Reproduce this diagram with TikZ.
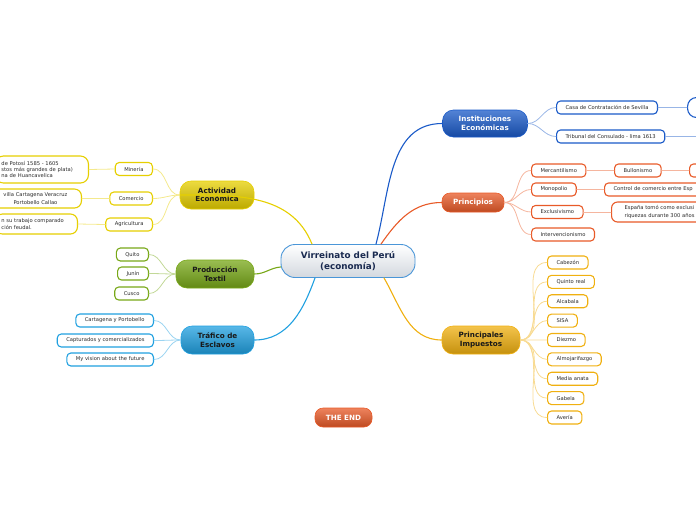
\documentclass[tikz,border=0pt]{standalone}
\usepackage{fontspec}
\setmainfont{DejaVu Sans}
\usepackage{tikz}
\definecolor{instblue}{HTML}{1A5AC8}
\definecolor{princred}{HTML}{E85A28}
\definecolor{taxorange}{HTML}{F0B010}
\definecolor{actyellow}{HTML}{E6CF00}
\definecolor{textgreen}{HTML}{78A818}
\definecolor{slaveblue}{HTML}{20A0E0}
\definecolor{rootblue}{HTML}{4A96D8}
\definecolor{rootgray}{HTML}{D3D8DF}
\definecolor{rootnavy}{HTML}{1A2A50}
\definecolor{leafgray}{HTML}{2A2A2A}

\begin{document}
\begin{tikzpicture}[
	x=1pt, y=-1pt,
	line cap=round, line join=round,
	root/.style={draw=rootblue, line width=0.9pt, top color=white, bottom color=rootgray,
		rounded corners=14pt, minimum width=134pt, minimum height=33pt, align=center,
		text=rootnavy, font=\fontsize{8.8}{10.5}\selectfont\bfseries},
	topic/.style={draw=#1, line width=0.6pt, top color=#1!75!white, bottom color=#1!82!black,
		rounded corners=11pt, minimum height=28pt, align=center,
		text=black!90, font=\fontsize{7.2}{8.6}\selectfont\bfseries},
	leaf/.style={draw=#1, line width=1.1pt, fill=white, rounded corners=4pt,
		minimum height=13pt, inner xsep=9pt, inner ysep=1pt,
		text=leafgray, font=\fontsize{5.2}{7.2}\selectfont},
	branch/.style={draw=#1, line width=1.1pt},
	twig/.style={draw=#1!45!white, line width=0.8pt}
]
	\useasboundingbox (0,0) rectangle (696,520);
	\clip (0,0) rectangle (696,520);

	% root and main topics
	\node[root] (virreinato) at (348,261) {Virreinato del Perú\\(economía)};
	\node[topic=instblue, text=white, minimum width=85pt, minimum height=27pt] (instituciones) at (485,123.5) {Instituciones\\Económicas};
	\node[topic=princred, text=white, minimum width=62pt, minimum height=19pt, rounded corners=8pt] (principios) at (473,202.5) {Principios};
	\node[topic=taxorange, minimum width=78pt] (impuestos) at (481,340) {Principales\\Impuestos};
	\node[topic=actyellow, minimum width=74pt] (actividad) at (217,195) {Actividad\\Económica};
	\node[topic=textgreen, minimum width=78pt] (produccion) at (215,274) {Producción\\Textil};
	\node[topic=slaveblue, minimum width=73pt] (trafico) at (217.5,340) {Tráfico de\\Esclavos};
	\node[topic=princred, text=white, minimum width=57pt, minimum height=19pt, rounded corners=8pt] (theend) at (343.5,417.5) {THE END};

	\draw[branch=instblue] ([xshift=28pt]virreinato.north) to[out=75,in=180] (instituciones.west);
	\draw[branch=princred] ([xshift=33pt]virreinato.north) to[out=55,in=180] (principios.west);
	\draw[branch=taxorange] ([xshift=36pt]virreinato.south) to[out=-60,in=180] (impuestos.west);
	\draw[branch=actyellow] ([xshift=-36pt]virreinato.north) to[out=112,in=0] (actividad.west);
	\draw[branch=textgreen] ([yshift=-6pt]virreinato.west) to[out=185,in=0] (produccion.east);
	\draw[branch=slaveblue] ([xshift=-33pt]virreinato.south) to[out=-110,in=0] (trafico.east);

	% instituciones
	\node[leaf=instblue, anchor=west] (casa) at (556,107.5) {Casa de Contratación de Sevilla};
	\node[leaf=instblue, anchor=west] (tribunal) at (556,136.5) {Tribunal del Consulado - lima 1613};
	\node[leaf=instblue, anchor=west, minimum width=60pt, minimum height=20pt, rounded corners=9pt] (casaNext) at (687,107.5) {};
	\coordinate (tribunalNext) at (705,136.5);
	\draw[twig=instblue] (instituciones.east) to[out=0,in=180] (casa.west);
	\draw[twig=instblue] (instituciones.east) to[out=0,in=180] (tribunal.west);
	\draw[twig=instblue] (casa.east) -- (casaNext.west);
	\draw[twig=instblue] (tribunal.east) -- (tribunalNext);

	% principios
	\node[leaf=princred, anchor=west] (mercantilismo) at (531,170.5) {Mercantilismo};
	\node[leaf=princred, anchor=west] (monopolio) at (531,189.5) {Monopolio};
	\node[leaf=princred, anchor=west] (exclusivismo) at (531,212) {Exclusivismo};
	\node[leaf=princred, anchor=west] (intervencionismo) at (531,234.5) {Intervencionismo};
	\node[leaf=princred, anchor=west] (bullonismo) at (614,170.5) {Bullonismo};
	\node[leaf=princred, anchor=west, minimum width=40pt] (bullonismoNext) at (689,170.5) {};
	\node[leaf=princred, anchor=west, text width=100pt, align=left] (control) at (604,189.5) {Control de comercio entre Esp};
	\node[leaf=princred, anchor=west, text width=100pt, align=left, inner xsep=13pt, minimum height=20pt, rounded corners=6pt] (espana) at (611,212) {España tomó como exclusi\\riquezas durante 300 años};
	\foreach \child in {mercantilismo,monopolio,exclusivismo,intervencionismo}
		\draw[twig=princred] (principios.east) to[out=0,in=180] (\child.west);
	\draw[twig=princred] (mercantilismo.east) -- (bullonismo.west);
	\draw[twig=princred] (bullonismo.east) -- (bullonismoNext.west);
	\draw[twig=princred] (monopolio.east) -- (control.west);
	\draw[twig=princred] (exclusivismo.east) -- (espana.west);

	% impuestos
	\foreach \taxName/\taxText [count=\i] in {cabezon/Cabezón, quinto/Quinto real, alcabala/Alcabala,
		sisa/SISA, diezmo/Diezmo, almojarifazgo/Almojarifazgo, mediaanata/Media anata,
		gabela/Gabela, averia/Avería}{
		\node[leaf=taxorange, anchor=west] (\taxName) at (547,243.1+19.375*\i) {\taxText};
		\draw[twig=taxorange] (impuestos.east) to[out=0,in=180] (\taxName.west);
	}

	% actividad economica
	\node[leaf=actyellow, anchor=east] (mineria) at (153,169) {Minería};
	\node[leaf=actyellow, anchor=east] (comercio) at (153,198.5) {Comercio};
	\node[leaf=actyellow, anchor=east] (agricultura) at (153,224.5) {Agricultura};
	\node[leaf=actyellow, anchor=east, text width=81pt, align=left, inner xsep=6pt, minimum height=27pt, rounded corners=8pt,
		font=\fontsize{5.2}{6.4}\selectfont] (mineriaNote) at (89,169.5) {de Potosí 1585 - 1605\\stos más grandes de plata)\\na de Huancavelica};
	\node[leaf=actyellow, anchor=east, text width=80pt, align=center, inner xsep=6pt, minimum height=19pt, rounded corners=7pt] (comercioNote) at (82,198.5) {villa Cartagena Veracruz\\Portobello Callao};
	\node[leaf=actyellow, anchor=east, text width=70pt, align=left, inner xsep=6pt, minimum height=20pt, rounded corners=7pt] (agriculturaNote) at (78,224) {n su trabajo comparado\\ción feudal.};
	\foreach \child in {mineria,comercio,agricultura}{
		\draw[twig=actyellow] (actividad.west) to[out=180,in=0] (\child.east);
		\draw[twig=actyellow] (\child.west) -- (\child Note.east);
	}

	% produccion textil
	\node[leaf=textgreen, anchor=east] (quito) at (149,254.5) {Quito};
	\node[leaf=textgreen, anchor=east] (junin) at (149,273.5) {Junín};
	\node[leaf=textgreen, anchor=east] (cusco) at (149,293.5) {Cusco};
	\foreach \child in {quito,junin,cusco}
		\draw[twig=textgreen] (produccion.west) to[out=180,in=0] (\child.east);

	% trafico de esclavos
	\node[leaf=slaveblue, anchor=east] (cartagena) at (154,320.5) {Cartagena y Portobello};
	\node[leaf=slaveblue, anchor=east] (capturados) at (154,340.5) {Capturados y comercializados};
	\node[leaf=slaveblue, anchor=east] (vision) at (154,359.5) {My vision about the future};
	\foreach \child in {cartagena,capturados,vision}
		\draw[twig=slaveblue] (trafico.west) to[out=180,in=0] (\child.east);
\end{tikzpicture}
\end{document}
